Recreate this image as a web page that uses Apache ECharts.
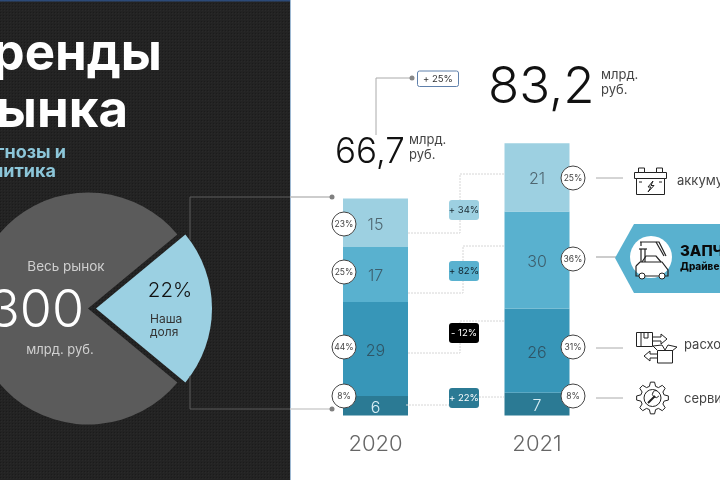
<!DOCTYPE html>
<html><head><meta charset="utf-8">
<style>html,body{margin:0;padding:0;background:#fff}#c{width:720px;height:480px}</style>
<script src="https://cdn.jsdelivr.net/npm/echarts@6/dist/echarts.min.js"></script>
</head><body><div id="c"></div>
<script>
const categories = ['2020', '2021'];
const batteries = [15, 21];
const parts = [17, 30];
const consumables = [29, 26];
const service = [6, 7];
const marketShare = [22, 78];
const shares2020 = ['23%', '25%', '44%', '8%'];
const shares2021 = ['25%', '36%', '31%', '8%'];
const changes = ['+ 34%', '+ 82%', '- 12%', '+ 22%'];
const totals = ['66,7', '83,2'];
const F = 'Inter, "Open Sans", sans-serif';

const c = document.createElement('canvas'); c.width = c.height = 3;
const g2 = c.getContext('2d');
g2.fillStyle = '#232323'; g2.fillRect(0, 0, 3, 3);
g2.fillStyle = '#1b1b1b'; g2.fillRect(0, 0, 1, 1);
g2.fillStyle = '#292929'; g2.fillRect(1, 1, 1, 1);

const G = [];
const T = (x, y, text, fs, color, o = {}) => G.push({type: 'text', x, y, z: 20, silent: true, style: {
  text, fontSize: fs, fill: color, fontFamily: F, fontWeight: o.w || 400,
  textAlign: o.a || 'left', textVerticalAlign: 'middle'}});
const L = (pts, color, w = 1, dash, z = 5) => G.push({type: 'polyline', z, silent: true, shape: {points: pts},
  style: {stroke: color, lineWidth: w, fill: null, lineDash: dash || null}});
const Dot = (x, y, r, fill, stroke, z = 6) => G.push({type: 'circle', z, silent: true, shape: {cx: x, cy: y, r},
  style: {fill, stroke: stroke || null, lineWidth: 1}});
const R = (x, y, w, h, fill, o = {}) => G.push({type: 'rect', z: o.z === undefined ? 8 : o.z, silent: true,
  shape: {x, y, width: w, height: h, r: o.r || 0}, style: {fill, stroke: o.s || null, lineWidth: o.lw || 1}});

// panel
R(0, 0, 290, 480, {image: c, repeat: 'repeat'}, {z: -5});
R(0, 0, 290, 1.5, '#2c4a78', {z: -4});
R(290, 0, 1, 480, '#9db8d2', {z: -4});

// title
T(162, 55, 'Тренды', 51, '#ffffff', {a: 'right', w: 700});
T(128, 112, 'рынка', 51, '#ffffff', {a: 'right', w: 700});
T(66, 153, 'Прогнозы и', 18, '#8cc6d9', {a: 'right', w: 700});
T(56, 172, 'аналитика', 18, '#8cc6d9', {a: 'right', w: 700});

// pie texts
T(66, 267, 'Весь рынок', 13.5, '#cfcfcf', {a: 'center'});
T(84, 311, '300', 52, '#ffffff', {a: 'right', w: 300});
T(60, 350, 'млрд. руб.', 13, '#d0d0d0', {a: 'center'});
T(170, 291, marketShare[0] + '%', 20.5, '#111111', {a: 'center', w: 300});
T(150, 319, 'Наша', 12, '#333333');
T(150, 332, 'доля', 12, '#333333');

// connectors panel to bars
L([[190, 240], [190, 197], [290, 197]], '#5c5c5c');
L([[290, 197], [332, 197]], '#bdbdbd', 1.5);
L([[190, 376], [190, 409], [290, 409]], '#5c5c5c');
L([[290, 409], [332, 409]], '#cfcfcf', 1.5);
Dot(332, 197, 2.5, '#808080'); Dot(332, 409, 2.5, '#808080');

// totals
T(335, 152, totals[0], 35, '#111111', {w: 300});
T(409, 140, 'млрд.', 13, '#444444');
T(409, 155, 'руб.', 13, '#444444');
T(488, 88, totals[1], 51, '#111111', {w: 300});
T(601, 75, 'млрд.', 13, '#444444');
T(601, 90, 'руб.', 13, '#444444');
L([[376, 135], [376, 78], [412, 78]], '#aaaaaa', 1);
Dot(412, 78, 2.5, '#888888');
R(417.5, 71, 41, 15.5, '#ffffff', {r: 2, s: '#5f80ab'});
T(438, 79, '+ 25%', 9.5, '#333333', {a: 'center'});

// dashed links + change pills
const D = '#d6d6d6', dash = [2, 1];
L([[408, 233], [460, 233], [460, 174], [504, 174]], D, 1, dash);
L([[408, 293], [463, 293], [463, 246], [504, 246]], D, 1, dash);
L([[408, 353], [460, 353], [460, 321], [504, 321]], D, 1, dash);
L([[406, 405], [450, 405]], D, 1, dash);
L([[479, 397], [504, 397]], D, 1, dash);
const pillColors = ['#9dd0e1', '#59b1cf', '#000000', '#2b7a94'];
const pillText = ['#1b2b33', '#10222b', '#ffffff', '#ffffff'];
[210, 271, 333, 398].forEach((y, i) => {
  R(449, y - 10, 30, 20, pillColors[i], {r: 3});
  T(464, y, changes[i], 9.5, pillText[i], {a: 'center'});
});

// share badges
[224, 272, 347, 396].forEach((y, i) => {
  Dot(344, y, 12, '#ffffff', '#444444', 9);
  T(344, y, shares2020[i], 8.5, '#444444', {a: 'center'});
});
[178, 259, 347, 396].forEach((y, i) => {
  Dot(573, y, 12, '#ffffff', '#444444', 9);
  T(573, y, shares2021[i], 8.5, '#444444', {a: 'center'});
});

// right side
[[178, 596, 623], [348, 596, 623], [398, 596, 623]].forEach(a => L([[a[1], a[0]], [a[2], a[0]]], '#aaaaaa'));
L([[596, 257], [620, 257]], '#bbbbbb', 1.5);
G.push({type: 'polygon', z: 6, silent: true, shape: {points: [[615, 258], [634, 224], [720, 224], [720, 293], [634, 293]]}, style: {fill: '#59b1cf'}});
Dot(651, 257, 21, '#ffffff', null, 7);
T(680, 251, 'ЗАПЧАСТИ', 15, '#0a0a0a', {w: 800});
T(680, 267, 'Драйвер', 10, '#0a0a0a', {w: 800});
T(677, 181, 'аккумуляторы', 13, '#444444');
T(684, 345, 'расходники', 13, '#444444');
T(684, 399, 'сервис', 13, '#444444');

const K = '#222222';
// battery icon
R(634.5, 172.5, 32, 6, '#ffffff', {s: K, z: 10});
R(636.5, 178.5, 28, 16, '#ffffff', {s: K, z: 10});
R(638.5, 168, 6, 4.5, '#ffffff', {s: K, z: 10});
R(656.5, 168, 6, 4.5, '#ffffff', {s: K, z: 10});
L([[653, 181], [648, 187], [651, 187], [648, 192], [654, 185.5], [651, 185.5], [653, 181]], K, 1, null, 11);
L([[639, 182], [642, 182]], K, 1, null, 11);
L([[659, 182], [662, 182]], K, 1, null, 11);

// parts icon in circle
L([[636, 266], [640, 262], [662, 262], [668, 270], [668, 276], [636, 276], [636, 266]], K, 1.2, null, 11);
L([[642, 262], [646, 256], [656, 256], [661, 262]], K, 1.2, null, 11);
Dot(642, 276, 3, '#ffffff', K, 11); Dot(662, 276, 3, '#ffffff', K, 11);
L([[640, 242], [659, 242], [666, 256]], K, 1.2, null, 11);
L([[656, 242], [664, 256]], K, 1.2, null, 11);
L([[641, 249], [641, 262]], K, 1.2, null, 11);
L([[645, 249], [645, 262]], K, 1.2, null, 11);
L([[639, 249], [647, 249]], K, 1.2, null, 11);
L([[641, 242], [641, 246]], K, 1.2, null, 11);

// boxes icon
R(636.5, 332.5, 16, 14, '#ffffff', {s: K, z: 10});
L([[641, 332], [641, 346]], K, 1, null, 11);
L([[644, 332], [644, 338], [648, 338], [648, 332]], K, 1, null, 11);
L([[652, 337], [661, 337], [661, 334], [667, 339], [661, 344], [661, 341], [652, 341]], K, 1, null, 11);
R(657.5, 350.5, 15, 12.5, '#ffffff', {s: K, z: 10});
L([[657, 350], [653, 346], [662, 345], [665, 350], [668, 345], [677, 347], [672, 351]], K, 1, null, 11);
L([[657, 354], [650, 354], [650, 351], [644, 356], [650, 361], [650, 358], [657, 358]], K, 1, null, 11);

// gear icon
const gear = [];
for (let i = 0; i < 16; i++) {
  const a0 = i / 16 * 2 * Math.PI, r = i % 2 ? 12 : 16;
  [-0.13, 0.13].forEach(d => gear.push([652.5 + r * Math.cos(a0 + d), 398 + r * Math.sin(a0 + d)]));
}
G.push({type: 'polygon', z: 10, silent: true, shape: {points: gear}, style: {fill: '#fff', stroke: K, lineWidth: 1}});
Dot(652.5, 398, 8.5, '#ffffff', K, 11);
L([[648, 403], [655, 396]], K, 2, null, 12);
G.push({type: 'arc', z: 12, silent: true, shape: {cx: 656, cy: 394, r: 3.5, startAngle: 0.6, endAngle: 5}, style: {stroke: K, fill: null, lineWidth: 1}});

const label = (color) => ({show: true, position: 'inside', offset: [0, 2], fontFamily: F, fontSize: 16, color, fontWeight: 300});
const bar = (data, color, lc) => ({type: 'bar', stack: 'a', data, barWidth: 65, silent: true,
  itemStyle: {color}, label: label(lc)});

echarts.init(document.getElementById('c'), null, {renderer: 'canvas'}).setOption({
  animation: false,
  backgroundColor: '#ffffff',
  grid: {left: 294.75, width: 323, top: 91.5, height: 324},
  xAxis: {type: 'category', data: categories, axisLine: {show: false}, axisTick: {show: false},
    axisLabel: {fontFamily: F, fontSize: 22, color: '#666666', margin: 18, fontWeight: 300}},
  yAxis: {type: 'value', min: 0, max: 100, show: false},
  series: [
    bar(service, '#2b7a94', '#d8eef5'),
    bar(consumables, '#3796b8', '#2f5566'),
    bar(parts, '#59b1cf', '#3d5f6e'),
    bar(batteries, '#9dd0e1', '#4f6670'),
    {type: 'pie', center: [88, 308.5], radius: [0, 116], startAngle: 39.6, silent: true, z: 3,
     selectedMode: 'single', selectedOffset: 8, label: {show: false}, labelLine: {show: false},
     data: [
       {value: marketShare[0], name: 'Наша доля', selected: true, itemStyle: {color: '#9bd0e2'}},
       {value: marketShare[1], name: 'Весь рынок', itemStyle: {color: '#5b5b5b'}}
     ]}
  ],
  graphic: {elements: G}
});
</script></body></html>
